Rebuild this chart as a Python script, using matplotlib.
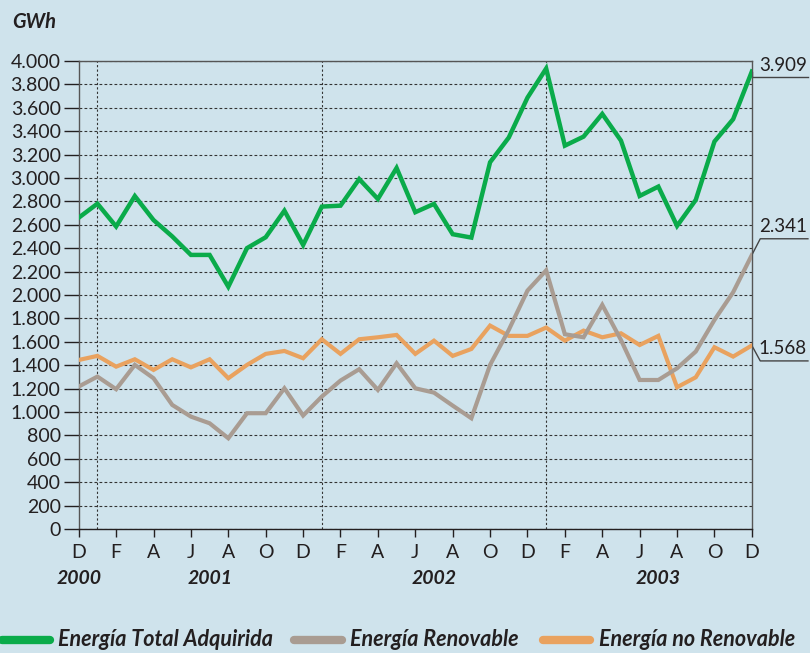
"""Energía adquirida mensual, Dic 2000 - Dic 2003 (GWh)."""

import matplotlib

matplotlib.use("Agg")
import matplotlib.pyplot as plt
from matplotlib.lines import Line2D
from matplotlib.ticker import FuncFormatter, MultipleLocator

# ---- data (GWh, monthly, Dec 2000 .. Dec 2003) ----
total = [2660, 2780, 2585, 2845, 2640, 2500, 2342, 2342, 2070, 2400,
         2493, 2720, 2427, 2755, 2763, 2990, 2820, 3085, 2707, 2778,
         2519, 2490, 3134, 3345, 3686, 3935, 3276, 3353, 3547, 3319,
         2846, 2926, 2590, 2812, 3311, 3502, 3909]
renovable = [1217, 1302, 1194, 1402, 1288, 1060, 960, 903, 775, 989,
             989, 1202, 969, 1131, 1268, 1365, 1188, 1416, 1202, 1165,
             1054, 946, 1402, 1701, 2037, 2210, 1664, 1638, 1915, 1615,
             1273, 1273, 1373, 1516, 1786, 2023, 2341]
no_renovable = [1444, 1479, 1387, 1450, 1359, 1450, 1381, 1450, 1288, 1402,
                1496, 1521, 1459, 1621, 1496, 1621, 1638, 1658, 1496, 1609,
                1479, 1538, 1738, 1650, 1650, 1721, 1609, 1695, 1638, 1672,
                1572, 1650, 1211, 1296, 1553, 1473, 1568]
month_labels = ["D", "F", "A", "J", "A", "O", "D", "F", "A", "J",
                "A", "O", "D", "F", "A", "J", "A", "O", "D"]
years = ["2000", "2001", "2002", "2003"]
year_pos = [0, 7, 19, 31]
year_breaks = [1, 13, 25]
series_names = ["Energía Total Adquirida", "Energía Renovable", "Energía no Renovable"]

BG = "#cfe3ec"
INK = "#231f20"
GREEN = "#0aab4a"
GREY = "#a99c92"
ORANGE = "#e9a25f"
FONT = "Lato"

plt.rcParams["font.family"] = [FONT, "DejaVu Sans"]

fig = plt.figure(figsize=(8.1, 6.53), dpi=100, facecolor=BG)
ax = fig.add_axes([0.0972, 0.19, 0.831, 0.7167], facecolor=BG)

x = list(range(len(total)))
ax.plot(x, no_renovable, color=ORANGE, lw=3, solid_joinstyle="miter", zorder=3)
ax.plot(x, renovable, color=GREY, lw=3, solid_joinstyle="miter", zorder=3)
ax.plot(x, total, color=GREEN, lw=3.2, solid_joinstyle="miter", zorder=4)

ax.set_xlim(0, 36)
ax.set_ylim(0, 4000)
ax.yaxis.set_major_locator(MultipleLocator(200))
ax.yaxis.set_major_formatter(FuncFormatter(lambda v, _: f"{v:,.0f}".replace(",", ".")))
ax.set_xticks(range(0, 37, 2))
ax.set_xticklabels(month_labels)

ax.grid(axis="y", color="#333333", ls=(0, (2.5, 2)), lw=0.8)
for b in year_breaks:
    ax.axvline(b, color="#333333", ls=(0, (2, 2)), lw=0.8, zorder=1)

for side in ("left", "right", "top", "bottom"):
    ax.spines[side].set_color("#555555")
    ax.spines[side].set_linewidth(1.0)
ax.spines["bottom"].set_color(INK)

ax.tick_params(axis="y", length=11, width=1, color=INK, labelsize=14,
               labelcolor=INK, pad=2)
ax.tick_params(axis="x", length=6, width=1, color=INK, labelsize=14,
               labelcolor=INK, pad=5)

# year labels
for yr, pos in zip(years, year_pos):
    ax.annotate(yr, xy=(pos, 0), xycoords=("data", "axes fraction"),
                xytext=(0, -36), textcoords="offset points", ha="center",
                va="center", fontsize=14, fontweight="bold", style="italic",
                color=INK)

# end-of-series labels with leader lines
end_labels = [(total[-1], 3909, 0), (renovable[-1], 2341, 1), (no_renovable[-1], 1568, 2)]
label_y = [3860, 2480, 1436]
for (val, txt, i), ly in zip(end_labels, label_y):
    ax.plot([36, 36.45 if i else 36, 39.0], [val, ly, ly], color="#444444",
            lw=1.0, clip_on=False, zorder=2)
    ax.text(38.95, ly + 30, f"{txt:,}".replace(",", "."), fontsize=13.5,
            color=INK, ha="right", va="bottom")

fig.text(0.015, 0.966, "GWh", fontsize=14.5, fontweight="bold", style="italic",
         color=INK, ha="left", va="center")

# legend along the bottom
legend_items = [(0.0, GREEN), (0.36, GREY), (0.667, ORANGE)]
for (x0, col), name in zip(legend_items, series_names):
    fig.add_artist(Line2D([x0 + 0.003, x0 + 0.062], [0.02, 0.02], color=col,
                          lw=6, solid_capstyle="round",
                          transform=fig.transFigure))
    fig.text(x0 + 0.072, 0.02, name, fontsize=15.5, fontweight="bold",
             style="italic", color=INK, ha="left", va="center")

fig.savefig("out.png", dpi=100, facecolor=BG)
